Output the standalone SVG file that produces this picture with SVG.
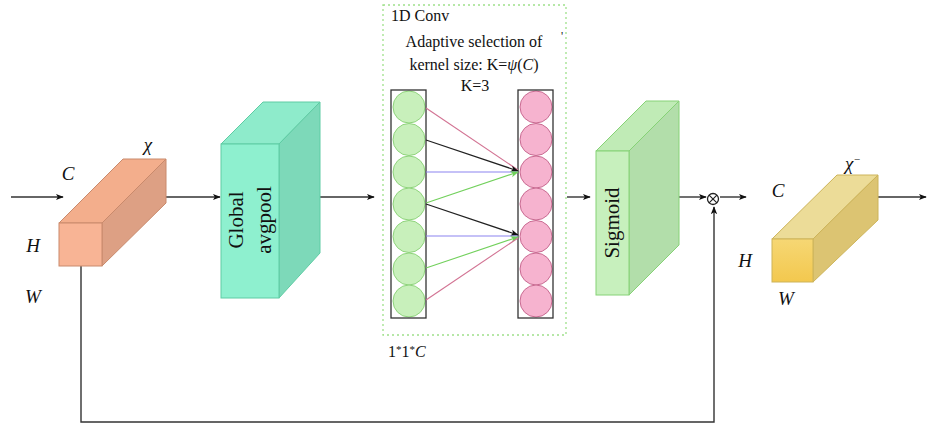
<svg xmlns="http://www.w3.org/2000/svg" width="927" height="428" viewBox="0 0 927 428">
<defs>
<marker id="ah" viewBox="0 0 10 10" refX="9" refY="5" markerWidth="8" markerHeight="8" markerUnits="userSpaceOnUse" orient="auto"><path d="M0,1 L10,5 L0,9 L2.5,5 z" fill="#111"/></marker>
<marker id="ahG" viewBox="0 0 10 10" refX="9" refY="5" markerWidth="8" markerHeight="8" markerUnits="userSpaceOnUse" orient="auto"><path d="M0,1 L10,5 L0,9 L2.5,5 z" fill="#6fd05a"/></marker>
<linearGradient id="yel" x1="0" y1="0" x2="0" y2="1"><stop offset="0" stop-color="#f6d774"/><stop offset="1" stop-color="#f3c84e"/></linearGradient>
</defs>
<style>
.ln{stroke:#333;stroke-width:1.4;fill:none}
.it{font-family:"Liberation Serif",serif;font-style:italic;font-size:19px;fill:#111}
.tx{font-family:"Liberation Serif",serif;font-size:16px;fill:#111}
.lc{fill:#c8f0bb;stroke:#8fd47c;stroke-width:1}
.rc{fill:#f6b3cf;stroke:#c96b92;stroke-width:1}
.col{fill:none;stroke:#333;stroke-width:1.3}
</style>
<rect width="927" height="428" fill="#fff"/>

<g id="connectors">
<line class="ln" x1="11" y1="197" x2="63" y2="197" marker-end="url(#ah)"/>
<line class="ln" x1="166" y1="197" x2="220" y2="197" marker-end="url(#ah)"/>
<line class="ln" x1="320" y1="197" x2="374" y2="197" marker-end="url(#ah)"/>
<line class="ln" x1="567" y1="197" x2="590" y2="197" marker-end="url(#ah)"/>
<line class="ln" x1="679" y1="197" x2="706" y2="197" marker-end="url(#ah)"/>
<line class="ln" x1="720" y1="197" x2="746" y2="197" marker-end="url(#ah)"/>
<line class="ln" x1="878" y1="197" x2="926" y2="197" marker-end="url(#ah)"/>
<polyline class="ln" points="81,266 81,422 714,422 714,207" marker-end="url(#ah)"/>
<g id="multiply">
<circle cx="713" cy="199" r="5.5" fill="#fff" stroke="#222" stroke-width="1.3"/>
<path d="M709.1,195.1 L716.9,202.9 M716.9,195.1 L709.1,202.9" stroke="#222" stroke-width="1.2"/>
</g>
</g>

<g id="input-tensor">
<polygon points="59,223 123,159 166,159 102,223" fill="#f3ae8c" stroke="#c98a6c" stroke-width="1"/>
<polygon points="102,223 166,159 166,203 102,266" fill="#dda084" stroke="#c98a6c" stroke-width="1"/>
<rect x="59" y="223" width="43" height="43" fill="#f8b495" stroke="#c98a6c" stroke-width="1"/>
<text class="it" x="68" y="180" text-anchor="middle">C</text>
<text class="it" x="148" y="151" text-anchor="middle">χ</text>
<text class="it" x="33" y="252" text-anchor="middle">H</text>
<text class="it" x="33" y="303" text-anchor="middle">W</text>
</g>

<g id="global-avgpool">
<polygon points="221,144 263,102 320,102 279,144" fill="#8eebcb" stroke="#5fcca4" stroke-width="1"/>
<polygon points="279,144 320,102 320,253 279,298" fill="#7dd9b9" stroke="#5fcca4" stroke-width="1"/>
<rect x="221" y="144" width="58" height="154" fill="#8ef0cf" stroke="#5fcca4" stroke-width="1"/>
<text class="tx" style="font-size:21px" transform="translate(243,220) rotate(-90)" text-anchor="middle">Global</text>
<text class="tx" style="font-size:21px" transform="translate(271,220) rotate(-90)" text-anchor="middle">avgpool</text>
</g>

<g id="conv1d">
<rect x="383" y="5" width="183" height="330" fill="none" stroke="#9ee08a" stroke-width="1.3" stroke-dasharray="2,3"/>
<text class="tx" x="391" y="21">1D Conv</text>
<text class="tx" x="474" y="47" text-anchor="middle">Adaptive selection of</text>
<text class="tx" x="474" y="70" text-anchor="middle">kernel size: K=<tspan font-style="italic">ψ</tspan>(<tspan font-style="italic">C</tspan>)</text>
<text class="tx" x="475" y="91" text-anchor="middle">K=3</text>
<text class="tx" x="561" y="40" style="font-size:12px">'</text>
</g>

<g id="input-column">
<circle class="lc" cx="409" cy="107" r="16"/>
<circle class="lc" cx="409" cy="139.5" r="16"/>
<circle class="lc" cx="409" cy="172" r="16"/>
<circle class="lc" cx="409" cy="204" r="16"/>
<circle class="lc" cx="409" cy="236.5" r="16"/>
<circle class="lc" cx="409" cy="269" r="16"/>
<circle class="lc" cx="409" cy="301" r="16"/>
<rect class="col" x="391" y="90" width="35" height="228"/>
</g>

<g id="output-column">
<circle class="rc" cx="536" cy="107" r="16"/>
<circle class="rc" cx="536" cy="139.5" r="16"/>
<circle class="rc" cx="536" cy="172" r="16"/>
<circle class="rc" cx="536" cy="204" r="16"/>
<circle class="rc" cx="536" cy="236.5" r="16"/>
<circle class="rc" cx="536" cy="269" r="16"/>
<circle class="rc" cx="536" cy="301" r="16"/>
<rect class="col" x="518" y="90" width="35" height="228"/>
</g>

<g id="kernel-connectors">
<line x1="426" y1="108" x2="518" y2="170" stroke="#d27393" stroke-width="1.1"/>
<line x1="426" y1="140" x2="518" y2="171" stroke="#222" stroke-width="1.3" marker-end="url(#ah)"/>
<line x1="426" y1="172" x2="518" y2="172" stroke="#8c84f0" stroke-width="1.1"/>
<line x1="426" y1="203" x2="518" y2="172" stroke="#72d05c" stroke-width="1.1" marker-end="url(#ahG)"/>
<line x1="426" y1="204" x2="518" y2="235" stroke="#222" stroke-width="1.3" marker-end="url(#ah)"/>
<line x1="426" y1="236" x2="518" y2="236" stroke="#8c84f0" stroke-width="1.1"/>
<line x1="426" y1="268" x2="518" y2="237" stroke="#72d05c" stroke-width="1.1" marker-end="url(#ahG)"/>
<line x1="426" y1="300" x2="518" y2="238" stroke="#d27393" stroke-width="1.1"/>
</g>

<text class="tx" x="388" y="357">1<tspan font-size="11" dy="-4">*</tspan><tspan dy="4">1</tspan><tspan font-size="11" dy="-4">*</tspan><tspan dy="4" font-style="italic">C</tspan></text>

<g id="sigmoid">
<polygon points="596,151 646,101 679,101 629,151" fill="#c0ebb6" stroke="#86d276" stroke-width="1"/>
<polygon points="629,151 679,101 679,245 629,295" fill="#b2deaa" stroke="#86d276" stroke-width="1"/>
<rect x="596" y="151" width="33" height="144" fill="#c7f0bd" stroke="#86d276" stroke-width="1"/>
<text class="tx" style="font-size:21px" transform="translate(619,223) rotate(-90)" text-anchor="middle">Sigmoid</text>
</g>

<g id="output-tensor">
<polygon points="772,239 837,175 878,175 813,239" fill="#ecdc98" stroke="#cdb45a" stroke-width="1"/>
<polygon points="813,239 878,175 878,220 813,282" fill="#dcc472" stroke="#cdb45a" stroke-width="1"/>
<rect x="772" y="239" width="41" height="43" fill="url(#yel)" stroke="#cdb45a" stroke-width="1"/>
<text class="it" x="778" y="197" text-anchor="middle">C</text>
<text class="it" x="853" y="170" text-anchor="middle">χ<tspan font-size="11" dy="-7">−</tspan></text>
<text class="it" x="745" y="267" text-anchor="middle">H</text>
<text class="it" x="786" y="305" text-anchor="middle">W</text>
</g>
</svg>
